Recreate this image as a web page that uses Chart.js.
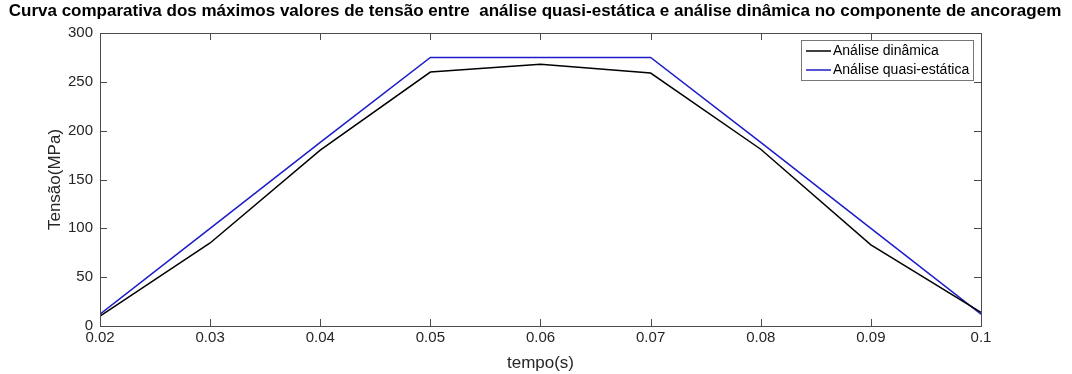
<!DOCTYPE html>
<html>
<head>
<meta charset="utf-8">
<script src="https://cdn.jsdelivr.net/npm/chart.js@4/dist/chart.umd.min.js"></script>
<style>
    html, body { margin: 0; padding: 0; background: #fff; }
    #wrap { width: 1072px; height: 374px; }
</style>
</head>
<body>
<div id="wrap"><canvas id="tensaoChart"></canvas></div>
<script>
// dados
const tempo = [0.02, 0.03, 0.04, 0.05, 0.06, 0.07, 0.08, 0.09, 0.1];
const dinamica = [10, 85, 180, 260, 268, 259, 181, 83, 14];
const quasiEstatica = [12, 100, 188, 275, 275, 275, 188, 100, 12];
const yTicks = [0, 50, 100, 150, 200, 250, 300];

const titulo = 'Curva comparativa dos máximos valores de tensão entre  análise quasi-estática e análise dinâmica no componente de ancoragem';
const FONT = '"Liberation Sans", Arial, sans-serif';
const AXIS = '#4a4a4a';

// moldura estilo MATLAB, ticks para dentro, títulos e legenda com caixa
const matlabFrame = {
    id: 'matlabFrame',
    afterDatasetsDraw(chart) {
        const { ctx, chartArea: a, scales } = chart;
        ctx.save();
        ctx.strokeStyle = AXIS;
        ctx.lineWidth = 1;
        ctx.strokeRect(a.left + 0.5, a.top + 0.5, a.right - a.left, a.bottom - a.top);

        ctx.beginPath();
        tempo.forEach(v => {
            const x = Math.round(scales.x.getPixelForValue(v)) + 0.5;
            ctx.moveTo(x, a.bottom); ctx.lineTo(x, a.bottom - 7);
            ctx.moveTo(x, a.top); ctx.lineTo(x, a.top + 7);
        });
        yTicks.forEach(v => {
            const y = Math.round(scales.y.getPixelForValue(v)) + 0.5;
            ctx.moveTo(a.left, y); ctx.lineTo(a.left + 7, y);
            ctx.moveTo(a.right, y); ctx.lineTo(a.right - 7, y);
        });
        ctx.stroke();

        // legenda
        const bx = 801, by = 40, bw = 172, bh = 40;
        ctx.fillStyle = '#fff';
        ctx.fillRect(bx, by, bw, bh);
        ctx.strokeStyle = '#777';
        ctx.strokeRect(bx + 0.5, by + 0.5, bw, bh);
        ctx.font = '14px ' + FONT;
        ctx.textBaseline = 'middle';
        ctx.textAlign = 'left';
        chart.data.datasets.forEach((ds, i) => {
            const y = by + 11 + i * 19;
            ctx.strokeStyle = ds.borderColor;
            ctx.lineWidth = 1.5;
            ctx.beginPath();
            ctx.moveTo(bx + 5, y); ctx.lineTo(bx + 30, y);
            ctx.stroke();
            ctx.fillStyle = '#000';
            ctx.fillText(ds.label, bx + 32, y);
        });
        ctx.restore();
    },
    afterDraw(chart) {
        const { ctx, chartArea: a } = chart;
        ctx.save();
        // título (comprimido na horizontal como no original)
        ctx.font = 'bold 17px ' + FONT;
        ctx.fillStyle = '#000';
        ctx.textBaseline = 'middle';
        ctx.textAlign = 'center';
        const w = ctx.measureText(titulo).width;
        const sx = Math.min(1, 1066 / w);
        ctx.translate(535, 11);
        ctx.scale(sx, 1);
        ctx.fillText(titulo, 0, 0);
        ctx.restore();

        ctx.save();
        ctx.font = '17px ' + FONT;
        ctx.fillStyle = '#262626';
        ctx.textAlign = 'center';
        ctx.textBaseline = 'middle';
        ctx.fillText('tempo(s)', (a.left + a.right) / 2, 363);
        ctx.translate(55, (a.top + a.bottom) / 2);
        ctx.rotate(-Math.PI / 2);
        ctx.fillText('Tensão(MPa)', 0, 0);
        ctx.restore();
    }
};

new Chart(document.getElementById('tensaoChart'), {
    type: 'line',
    data: {
        datasets: [{
            label: 'Análise dinâmica',
            data: tempo.map((t, i) => ({ x: t, y: dinamica[i] })),
            borderColor: '#000000',
            borderWidth: 1.5,
            pointRadius: 0,
            tension: 0
        }, {
            label: 'Análise quasi-estática',
            data: tempo.map((t, i) => ({ x: t, y: quasiEstatica[i] })),
            borderColor: '#1c1cc8',
            borderWidth: 1.5,
            pointRadius: 0,
            tension: 0
        }]
    },
    options: {
        responsive: true,
        maintainAspectRatio: false,
        animation: false,
        layout: {
            padding: { left: 0, top: 33, right: 91, bottom: 0 }
        },
        plugins: {
            legend: { display: false },
            title: { display: false },
            tooltip: { enabled: false }
        },
        scales: {
            x: {
                type: 'linear',
                min: 0.02,
                max: 0.1,
                afterBuildTicks: scale => { scale.ticks = tempo.map(v => ({ value: v })); },
                afterFit: scale => { scale.height = 48; },
                grid: { display: false, drawTicks: false, tickLength: 0 },
                border: { display: false },
                ticks: {
                    padding: 3,
                    maxRotation: 0,
                    autoSkip: false,
                    color: '#262626',
                    font: { family: FONT, size: 15 },
                    callback: value => String(Number(value.toFixed(2)))
                }
            },
            y: {
                min: 0,
                max: 300,
                afterBuildTicks: scale => { scale.ticks = yTicks.map(v => ({ value: v })); },
                afterFit: scale => { scale.width = 100; },
                grid: { display: false, drawTicks: false, tickLength: 0 },
                border: { display: false },
                ticks: {
                    padding: 7,
                    color: '#262626',
                    font: { family: FONT, size: 15 }
                }
            }
        }
    },
    plugins: [matlabFrame]
});
</script>
</body>
</html>
